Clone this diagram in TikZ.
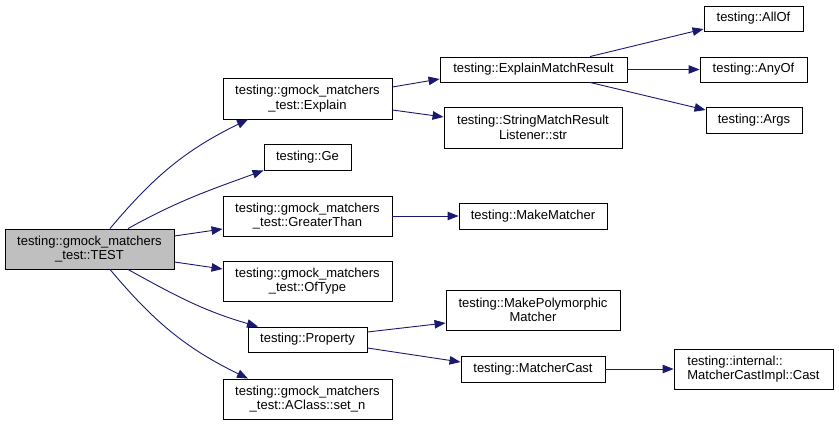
\documentclass[tikz,border=0pt]{standalone}
\usepackage{fontspec}
\setmainfont{Liberation Sans}
\usetikzlibrary{arrows.meta}
\definecolor{edgec}{HTML}{191970}
\definecolor{hl}{HTML}{BFBFBF}
\tikzset{
  box/.style={draw=black, line width=0.9pt, fill=white, inner sep=0pt, align=center,
    font=\fontsize{13}{14.5}\selectfont},
  edge/.style={draw=edgec, line width=0.9pt, -{Triangle[length=11pt,width=8.5pt]}},
}
\begin{document}
\begin{tikzpicture}[x=1pt,y=1pt]
\useasboundingbox (0,0) rectangle (839,-425);
% nodes
\node[box, fill=hl, minimum width=169pt, minimum height=40pt] (test) at (89.5,-249) {testing::gmock\_matchers\\\_test::TEST};
\node[box, minimum width=169pt, minimum height=41pt] (explain) at (307.5,-98.5) {testing::gmock\_matchers\\\_test::Explain};
\node[box, minimum width=87pt, minimum height=26pt] (ge) at (307.5,-157) {testing::Ge};
\node[box, minimum width=169pt, minimum height=40pt] (gt) at (307.5,-216) {testing::gmock\_matchers\\\_test::GreaterThan};
\node[box, minimum width=169pt, minimum height=40pt] (oftype) at (307.5,-281) {testing::gmock\_matchers\\\_test::OfType};
\node[box, minimum width=119pt, minimum height=25pt] (prop) at (307.5,-339.5) {testing::Property};
\node[box, minimum width=169pt, minimum height=40pt] (setn) at (307.5,-399) {testing::gmock\_matchers\\\_test::AClass::set\_n};
\node[box, minimum width=187pt, minimum height=25pt] (emr) at (533.5,-69.5) {testing::ExplainMatchResult};
\node[box, minimum width=178pt, minimum height=41pt] (smrl) at (533,-127.5) {testing::StringMatchResult\\Listener::str};
\node[box, minimum width=148pt, minimum height=26pt] (mm) at (533,-216) {testing::MakeMatcher};
\node[box, minimum width=174pt, minimum height=40pt] (mpm) at (533,-310) {testing::MakePolymorphic\\Matcher};
\node[box, minimum width=144pt, minimum height=26pt] (mc) at (533,-369) {testing::MatcherCast};
\node[box, minimum width=99pt, minimum height=25pt] (allof) at (753.5,-18.5) {testing::AllOf};
\node[box, minimum width=107pt, minimum height=25pt] (anyof) at (753.5,-69.5) {testing::AnyOf};
\node[box, minimum width=96pt, minimum height=26pt] (args) at (754,-120) {testing::Args};
\node[box, align=left, minimum width=159pt, minimum height=40pt] (cast) at (753.5,-369) {testing::internal::\\MatcherCastImpl::Cast};
% edges
\draw[edge] ([xshift=20.5pt]test.north) to[out=50,in=206] ([xshift=-59.5pt]explain.south);
\draw[edge] ([xshift=38.5pt]test.north) to[out=29,in=200] (ge.south west);
\draw[edge] ([yshift=13pt]test.east) -- ([yshift=-13pt]gt.west);
\draw[edge] ([yshift=-13pt]test.east) -- ([yshift=12pt]oftype.west);
\draw[edge] ([xshift=38.5pt]test.south) to[out=-29,in=164] ([xshift=-49.5pt]prop.north);
\draw[edge] ([xshift=20.5pt]test.south) to[out=-50,in=154] ([xshift=-59.5pt]setn.north);
\draw[edge] ([yshift=11.5pt]explain.east) -- ([yshift=-9.5pt]emr.west);
\draw[edge] ([yshift=-11.5pt]explain.east) -- ([yshift=10.5pt]smrl.west);
\draw[edge] ([xshift=56.5pt]emr.north) -- ([yshift=-10.5pt]allof.west);
\draw[edge] (emr.east) -- (anyof.west);
\draw[edge] ([xshift=56.5pt]emr.south) -- ([yshift=10pt]args.west);
\draw[edge] (gt.east) -- (mm.west);
\draw[edge] ([yshift=7.5pt]prop.east) -- ([yshift=-13pt]mpm.west);
\draw[edge] ([yshift=-8.5pt]prop.east) -- ([yshift=7pt]mc.west);
\draw[edge] (mc.east) -- (cast.west);
\end{tikzpicture}
\end{document}
